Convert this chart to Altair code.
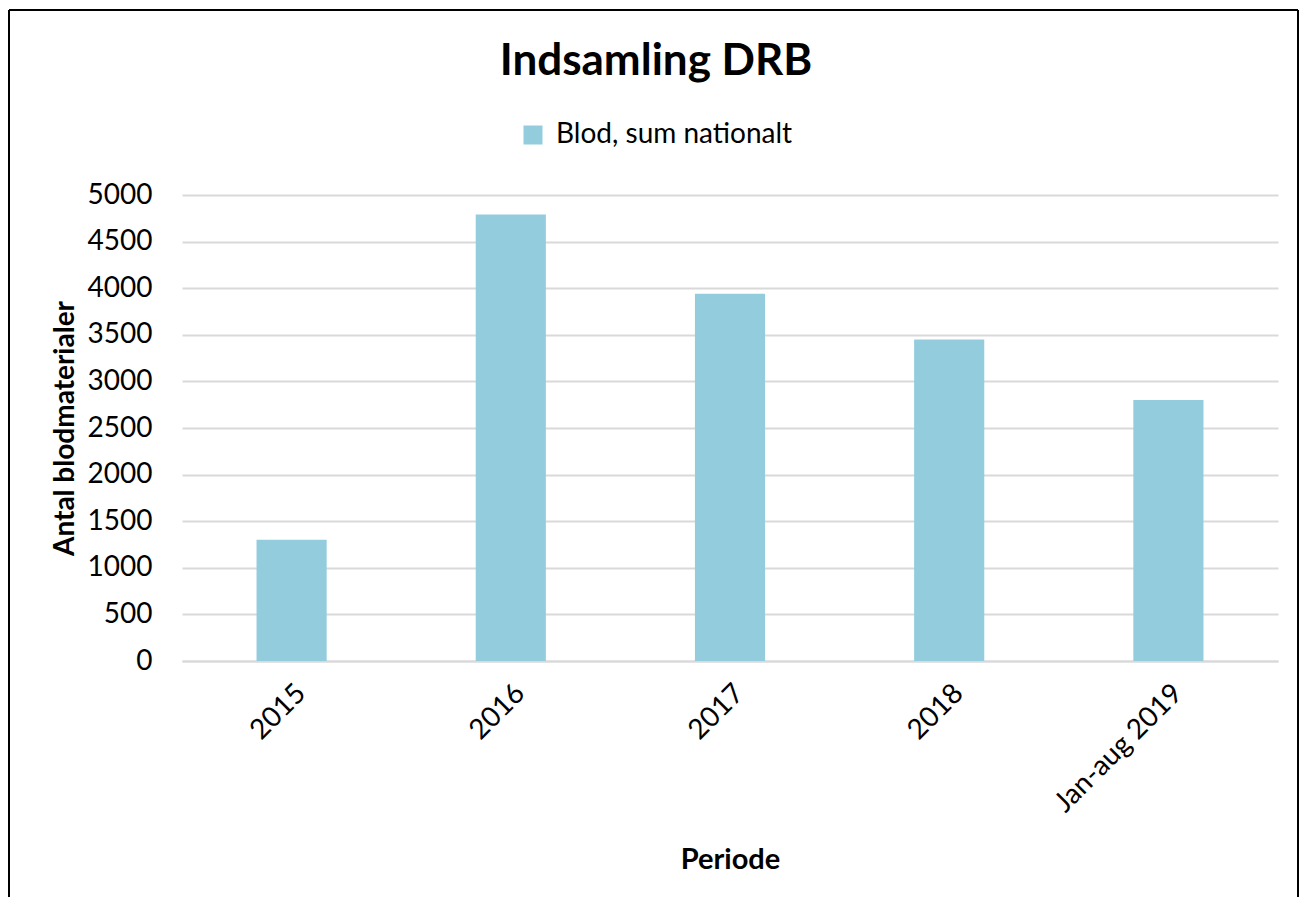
import altair as alt
import pandas as pd

periods = ["2015", "2016", "2017", "2018", "Jan-aug 2019"]
values = [1300, 4790, 3940, 3450, 2800]
series_name = "Blod, sum nationalt"
chart_title = "Indsamling DRB"
y_title = "Antal blodmaterialer"
x_title = "Periode"
y_ticks = list(range(0, 5001, 500))

df = pd.DataFrame({"Periode": periods, "Antal": values, "Serie": [series_name] * len(periods)})

FONT = "Lato"
GRID = "#D9D9D9"

bars = alt.Chart(df).mark_bar(color="#93CDDD").encode(
    x=alt.X(
        "Periode:N",
        sort=periods,
        scale=alt.Scale(paddingInner=0.68, paddingOuter=0.34),
        axis=alt.Axis(
            title=x_title,
            labelAngle=-45,
            labelFontSize=28,
            labelFont=FONT,
            labelColor="#000000",
            labelPadding=18,
            ticks=False,
            grid=False,
            domainColor=GRID,
            domainWidth=2,
            titleFont=FONT,
            titleFontSize=29,
            titleFontWeight="bold",
            titleColor="#000000",
            titlePadding=28,
        ),
    ),
    y=alt.Y(
        "Antal:Q",
        scale=alt.Scale(domain=[0, 5000], nice=False),
        axis=alt.Axis(
            title=y_title,
            values=y_ticks,
            format="d",
            labelFontSize=28,
            labelFont=FONT,
            labelColor="#000000",
            labelPadding=30,
            ticks=False,
            domain=False,
            gridColor=GRID,
            gridWidth=2,
            titleFont=FONT,
            titleFontSize=28,
            titleFontWeight="bold",
            titleColor="#000000",
            titlePadding=8,
        ),
    ),
    fill=alt.Fill(
        "Serie:N",
        scale=alt.Scale(range=["#93CDDD"]),
        legend=alt.Legend(
            title=None,
            orient="none",
            legendX=337,
            legendY=-74,
            padding=0,
            symbolType="square",
            symbolSize=361,
            symbolStrokeWidth=0,
            labelFont=FONT,
            labelFontSize=28,
            labelColor="#000000",
            labelOffset=9,
            labelLimit=400,
        ),
    ),
)

title_df = pd.DataFrame({"t": [chart_title]})
title = alt.Chart(title_df).mark_text(
    font=FONT, fontSize=44, fontWeight="bold", color="#000000", baseline="alphabetic", align="center"
).encode(text="t:N", x=alt.value(474), y=alt.value(-120))

frame_df = pd.DataFrame({"k": [0]})
frame_top = alt.Chart(frame_df).mark_rule(color="#000000", strokeWidth=2).encode(
    x=alt.value(-173), x2=alt.value(1116), y=alt.value(-185)
)
frame_left = alt.Chart(frame_df).mark_rule(color="#000000", strokeWidth=2).encode(
    x=alt.value(-173), y=alt.value(-185), y2=alt.value(720)
)
frame_right = alt.Chart(frame_df).mark_rule(color="#000000", strokeWidth=2).encode(
    x=alt.value(1116), y=alt.value(-185), y2=alt.value(720)
)

chart = alt.layer(bars, title, frame_top, frame_left, frame_right).properties(
    width=1096,
    height=466,
    background="#FFFFFF",
    autosize=alt.AutoSizeParams(type="none"),
    padding={"left": 174, "top": 187, "right": 22, "bottom": 236},
).configure_view(strokeWidth=0, stroke="transparent")

chart.save("out.html", embed_options={"renderer": "svg", "actions": False})
